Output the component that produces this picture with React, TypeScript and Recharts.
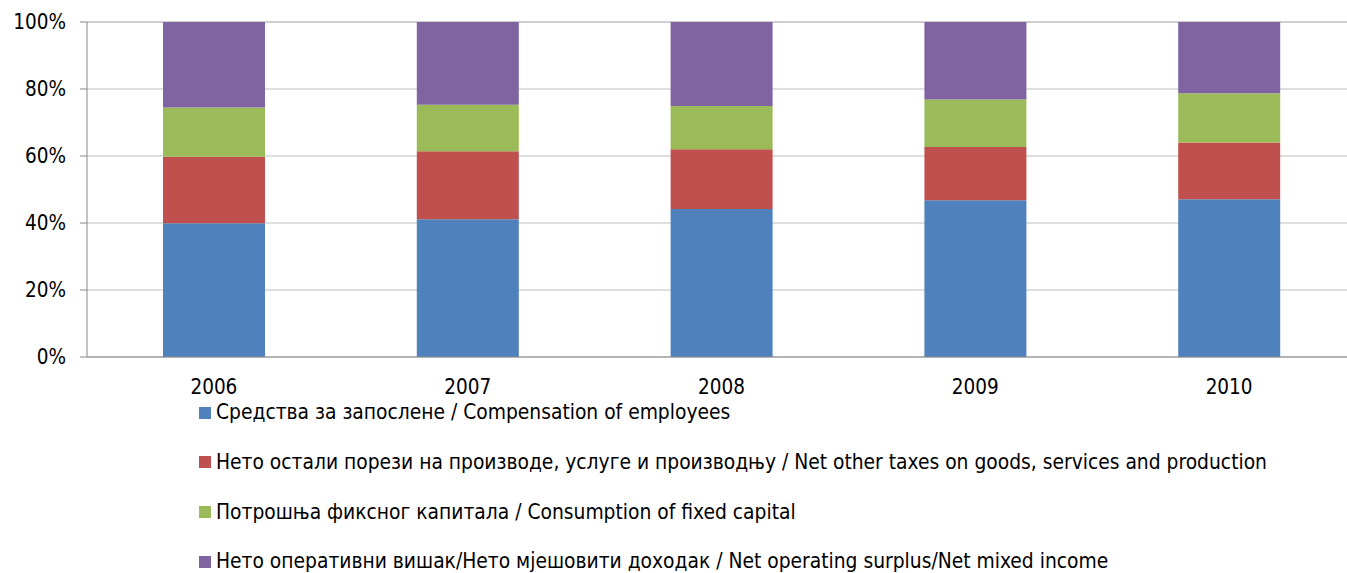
import { BarChart, Bar, XAxis, YAxis, CartesianGrid } from 'recharts';

const years = ['2006', '2007', '2008', '2009', '2010'];
const compensation = [39.9, 41.1, 44.2, 46.8, 47.1];
const netTaxes = [19.9, 20.3, 17.8, 15.9, 16.9];
const fixedCapital = [14.7, 13.9, 12.9, 14.2, 14.7];
const surplus = [25.5, 24.7, 25.1, 23.1, 21.3];
const yTicks = [0, 20, 40, 60, 80, 100];
const boundaryTicks = [0, 1, 2, 3, 4, 5];

const series = [
  { key: 'compensation', name: 'Средства за запослене / Compensation of employees', color: '#4F81BD' },
  { key: 'netTaxes', name: 'Нето остали порези на производе, услуге и производњу / Net other taxes on goods, services and production', color: '#C0504D' },
  { key: 'fixedCapital', name: 'Потрошња фиксног капитала / Consumption of fixed capital', color: '#9BBB59' },
  { key: 'surplus', name: 'Нето оперативни вишак/Нето мјешовити доходак / Net operating surplus/Net mixed income', color: '#8064A2' },
];

const data = years.map((year, i) => ({
  year,
  compensation: compensation[i],
  netTaxes: netTaxes[i],
  fixedCapital: fixedCapital[i],
  surplus: surplus[i],
}));

const FONT = '"DejaVu Sans Condensed", "DejaVu Sans", sans-serif';

export default function App() {
  return (
    <div style={{ position: 'absolute', left: 0, top: 0, width: 1347, height: 573, overflow: 'hidden', fontFamily: FONT, background: '#fff' }}>
      <BarChart width={1347} height={573} data={data} margin={{ top: 22, right: -9, left: 0, bottom: 176 }}>
        <CartesianGrid vertical={false} stroke="#BFBFBF" />
        <XAxis
          xAxisId="bounds"
          type="number"
          domain={[0, 5]}
          ticks={boundaryTicks}
          height={0}
          tick={false}
          axisLine={false}
          tickLine={{ stroke: '#888' }}
          tickSize={6}
        />
        <XAxis
          dataKey="year"
          height={40}
          tickLine={false}
          axisLine={{ stroke: '#888' }}
          tickSize={6}
          tickMargin={16}
          tick={{ fill: '#000', fontSize: 20.5, fontFamily: FONT }}
          interval={0}
        />
        <YAxis
          width={87}
          domain={[0, 100]}
          ticks={yTicks}
          tickFormatter={(v: number) => `${v}%`}
          axisLine={{ stroke: '#888' }}
          tickLine={{ stroke: '#888' }}
          tickSize={7}
          tickMargin={14}
          tick={{ fill: '#000', fontSize: 20.5, fontFamily: FONT }}
        />
        {series.map((s) => (
          <Bar key={s.key} dataKey={s.key} name={s.name} stackId="a" fill={s.color} barSize={102} isAnimationActive={false} />
        ))}
      </BarChart>
      <div style={{ position: 'absolute', left: 199, top: 388 }}>
        {series.map((s) => (
          <div key={s.key} style={{ display: 'flex', alignItems: 'center', height: 49.6, fontSize: 20.8, lineHeight: 1.1, color: '#000', whiteSpace: 'nowrap' }}>
            <span style={{ display: 'inline-block', width: 12, height: 12, background: s.color, marginRight: 5 }} />
            <span>{s.name}</span>
          </div>
        ))}
      </div>
    </div>
  );
}
